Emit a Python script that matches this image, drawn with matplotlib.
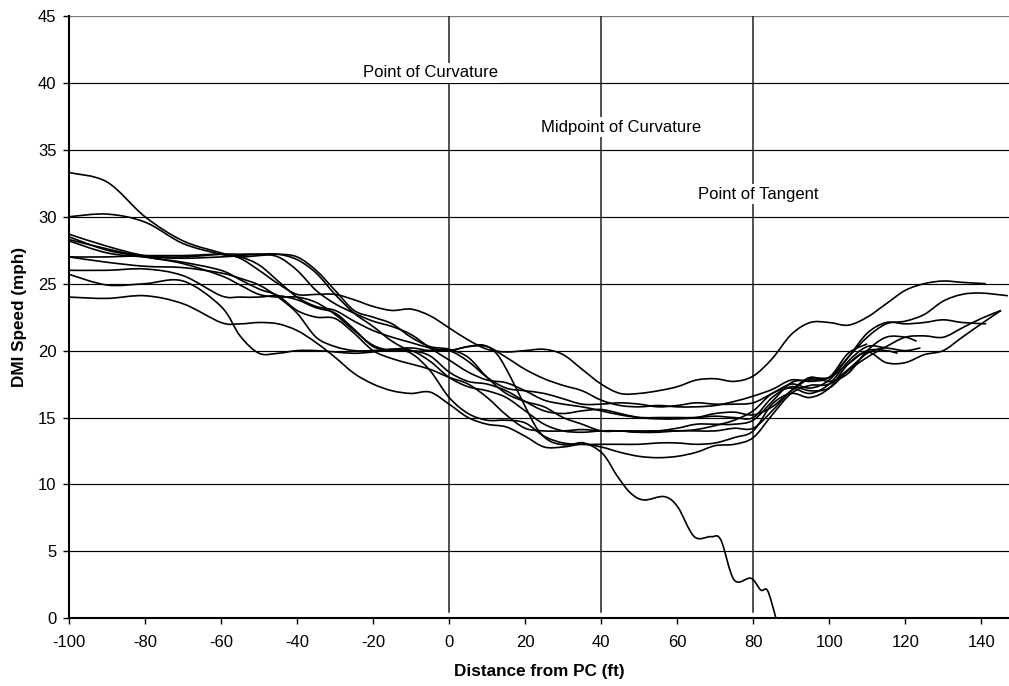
import numpy as np
import matplotlib
matplotlib.use("Agg")
import matplotlib.pyplot as plt
from matplotlib.path import Path
from matplotlib.patches import PathPatch

plt.rcParams['font.family'] = ['Liberation Sans', 'DejaVu Sans']
plt.rcParams['axes.unicode_minus'] = False

# Sample stations (ft from PC); each run also has its own last station
grid = [-100, -90, -80, -70, -60] + list(range(-55, 145, 5))

run_a = [33.3, 32.6, 30.0, 28.2, 27.3, 26.9, 26.0, 25.0, 24.2, 24.2, 24.2, 23.8, 23.3, 23.0, 23.1, 22.6,
         21.7, 20.8, 20.1, 19.9, 20.0, 20.1, 19.7, 18.6, 17.5, 16.8, 16.8, 17.0, 17.3, 17.8, 17.9, 17.7,
         18.1, 19.4, 21.2, 22.1, 22.1, 21.9, 22.5, 23.5, 24.5, 25.0, 25.2, 25.1, 25.0]
run_b = [30.0, 30.2, 29.6, 28.0, 27.2, 27.0, 26.4, 25.2, 24.0, 23.3, 23.0, 22.2, 21.5, 21.0, 20.6, 20.2,
         20.0, 20.3, 20.3, 19.5, 18.6, 17.9, 17.4, 17.0, 16.3, 15.9, 15.8, 15.9, 15.8, 15.8, 15.9, 16.2,
         16.6, 17.1, 17.8, 17.7, 18.0, 19.5, 21.0, 22.0, 22.2, 22.7, 23.7, 24.2, 24.3, 24.1]
run_c = [28.7, 27.8, 27.1, 27.0, 27.2, 27.2, 27.2, 27.0, 26.0, 24.5, 23.5, 22.8, 22.2, 21.8, 21.2, 20.2,
         19.3, 18.4, 17.8, 17.6, 17.0, 16.3, 16.0, 15.8, 15.5, 15.2, 15.0, 15.0, 15.0, 15.0, 15.1, 15.0,
         15.0, 16.5, 17.3, 17.0, 17.2, 18.5, 19.5, 20.3, 21.0, 21.1, 21.0, 21.7, 22.4, 23.0]
run_d = [28.5, 27.5, 27.0, 26.5, 25.6, 24.9, 24.2, 24.0, 24.0, 23.6, 22.7, 21.5, 20.4, 20.0, 20.0, 19.6,
         18.4, 17.7, 17.5, 17.0, 16.2, 15.5, 15.3, 15.5, 15.6, 15.3, 15.0, 14.9, 14.9, 15.0, 15.3, 15.4,
         15.2, 15.8, 17.0, 17.9, 18.0, 19.0, 19.9, 19.1, 19.1, 19.7, 20.0, 21.0, 22.0, 23.0]
run_e = [28.2, 27.3, 27.0, 26.9, 27.0, 27.1, 27.2, 27.2, 26.8, 25.8, 24.2, 22.8, 21.8, 20.7, 20.0, 20.0,
         20.0, 19.2, 18.0, 17.2, 17.0, 16.8, 16.4, 16.0, 16.0, 16.1, 16.0, 15.8, 15.9, 16.1, 16.0, 16.0,
         16.1, 16.8, 17.5, 17.2, 17.8, 19.5, 21.3, 22.1, 22.0, 22.1, 22.3, 22.1, 22.0]
run_f = [27.0, 27.0, 27.1, 27.1, 27.2, 27.0, 27.1, 27.2, 27.0, 26.0, 24.5, 23.0, 22.5, 22.0, 21.0, 20.3,
         20.1, 19.5, 18.0, 16.8, 16.2, 15.8, 15.0, 14.5, 14.0, 14.0, 14.0, 14.0, 14.0, 14.1, 14.4, 14.8,
         15.5, 16.8, 17.2, 16.8, 17.5, 19.2, 20.3, 20.2, 20.0, 20.2]
run_g = [26.0, 26.0, 26.1, 25.6, 24.1, 24.0, 24.0, 24.1, 23.8, 23.2, 22.8, 21.6, 20.3, 20.0, 20.0, 19.2,
         18.0, 17.3, 17.0, 16.5, 15.5, 14.5, 14.0, 13.9, 14.0, 14.0, 13.9, 13.9, 14.0, 14.0, 14.0, 14.2,
         14.2, 15.5, 17.0, 18.0, 17.7, 18.3, 20.0, 21.0, 21.0, 20.7]
run_h = [25.7, 24.9, 25.0, 25.2, 23.3, 21.1, 19.8, 19.8, 20.0, 20.0, 19.9, 19.8, 19.9, 20.1, 19.8, 18.5,
         16.5, 15.3, 14.8, 14.8, 14.6, 13.6, 13.1, 13.0, 13.0, 13.0, 13.0, 13.1, 13.1, 13.0, 13.1, 13.5,
         14.0, 16.0, 16.8, 16.5, 17.2, 19.0, 20.0, 20.0, 19.8]
run_i = [24.0, 23.9, 24.1, 23.5, 22.1, 22.0, 22.1, 22.0, 21.5, 20.6, 19.5, 18.3, 17.5, 17.0, 16.8, 16.9,
         16.0, 15.0, 14.5, 14.3, 13.6, 12.8, 12.8, 13.0, 12.8, 12.4, 12.1, 12.0, 12.1, 12.4, 12.9, 13.0,
         13.5, 15.2, 16.8, 17.4, 17.5, 18.6, 19.8, 20.2]
run_j = [28.3, 27.6, 27.0, 26.6, 26.0, 25.3, 24.6, 24.1, 23.0, 22.5, 22.4, 21.3, 20.0, 19.4, 19.0, 18.6,
         18.0, 17.5, 16.5, 15.2, 14.2, 14.0, 14.0, 14.1, 14.0, 14.0, 13.9, 14.0, 14.2, 14.5, 14.5, 14.5,
         14.8, 16.2, 17.6, 17.8, 18.0, 19.8, 20.5]

# Last station of each run
run_ends = [141.2, 147.0, 145.2, 145.2, 141.3, 124.0, 123.0, 118.0, 114.0, 110.0]
runs = [run_a, run_b, run_c, run_d, run_e, run_f, run_g, run_h, run_i, run_j]

# The run that slows to a stop just past the point of tangent
stop_x = [-100, -90, -80, -70, -60, -55, -50, -45, -40, -35, -30, -25, -20, -15, -10, -5, 0, 5, 9.2, 12.7,
          16.2, 19.7, 23.3, 26.8, 31.2, 35.5, 40.4, 44.3, 47.8, 51.3, 56.6, 60.1, 64.5, 68.9, 71.5, 75.0,
          79.4, 82.0, 83.8, 86.0]
stop_y = [27.0, 26.6, 26.3, 26.2, 25.8, 25.4, 24.9, 24.0, 22.8, 21.0, 20.3, 20.0, 20.0, 20.1, 20.2, 20.0,
          20.0, 20.3, 20.4, 19.7, 18.0, 16.0, 14.1, 13.2, 12.95, 13.1, 12.3, 10.6, 9.34, 8.84, 9.09, 8.34,
          6.1, 6.1, 5.85, 2.86, 2.99, 2.11, 2.06, 0.0]

landmarks = [0, 40, 80]
landmark_labels = ["Point of Curvature", "Midpoint of Curvature", "Point of Tangent"]
label_pos = [(-5.0, 40.75), (45.2, 36.7), (81.2, 31.7)]

y_ticks = list(range(0, 50, 5))
x_ticks = list(range(-100, 150, 20))


def smooth_path(xs, ys, tension=1.0 / 6.0):
    """Cubic Bezier path through the points (Catmull-Rom style smoothing)."""
    pts = np.column_stack([np.asarray(xs, float), np.asarray(ys, float)])
    n = len(pts)
    verts = [pts[0]]
    codes = [Path.MOVETO]
    for i in range(n - 1):
        p0 = pts[i - 1] if i > 0 else pts[i]
        p1 = pts[i]
        p2 = pts[i + 1]
        p3 = pts[i + 2] if i + 2 < n else pts[i + 1]
        c1 = p1 + (p2 - p0) * tension
        c2 = p2 - (p3 - p1) * tension
        verts += [c1, c2, p2]
        codes += [Path.CURVE4] * 3
    return Path(verts, codes)


fig = plt.figure(figsize=(10.09, 6.86), dpi=100)
ax = fig.add_axes([69 / 1009, (686 - 618.3) / 686, (1009 - 69) / 1009, (618.3 - 16) / 686])
ax.set_xlim(-100, 147.3)
ax.set_ylim(0, 45)

for yv in y_ticks[1:-1]:
    ax.axhline(yv, color='black', lw=0.85, zorder=1)
ax.axhline(y_ticks[-1], color='#808080', lw=1.0, zorder=1)
for xv in landmarks:
    ax.plot([xv, xv], [0.5, 45], color='#202020', lw=1.1, zorder=1)

line_style = dict(facecolor='none', edgecolor='black', lw=1.2, zorder=3)
for r, x_end in zip(runs, run_ends):
    xs = grid[:len(r) - 1] + [x_end]
    pts = list(zip(xs, r))
    ax.add_patch(PathPatch(smooth_path([p[0] for p in pts], [p[1] for p in pts]), **line_style))
ax.add_patch(PathPatch(smooth_path(stop_x, stop_y), **line_style))

for (tx, ty), lab in zip(label_pos, landmark_labels):
    ax.text(tx, ty, lab, ha='center', va='center', fontsize=12, zorder=5,
            bbox=dict(facecolor='white', edgecolor='none', pad=2))

ax.set_xticks(x_ticks)
ax.set_yticks(y_ticks)
ax.tick_params(axis='x', direction='out', length=4, width=1, labelsize=12, colors='black', pad=8)
ax.tick_params(axis='y', direction='out', length=4, width=1, labelsize=12, colors='black', pad=5)
for side in ['top', 'right']:
    ax.spines[side].set_visible(False)
for side in ['left', 'bottom']:
    ax.spines[side].set_linewidth(1.5)

ax.set_xlabel("Distance from PC (ft)", fontsize=12.3, fontweight='bold', labelpad=10)
ax.set_ylabel("DMI Speed (mph)", fontsize=12.3, fontweight='bold', labelpad=8)

fig.savefig("out.png", dpi=100)
